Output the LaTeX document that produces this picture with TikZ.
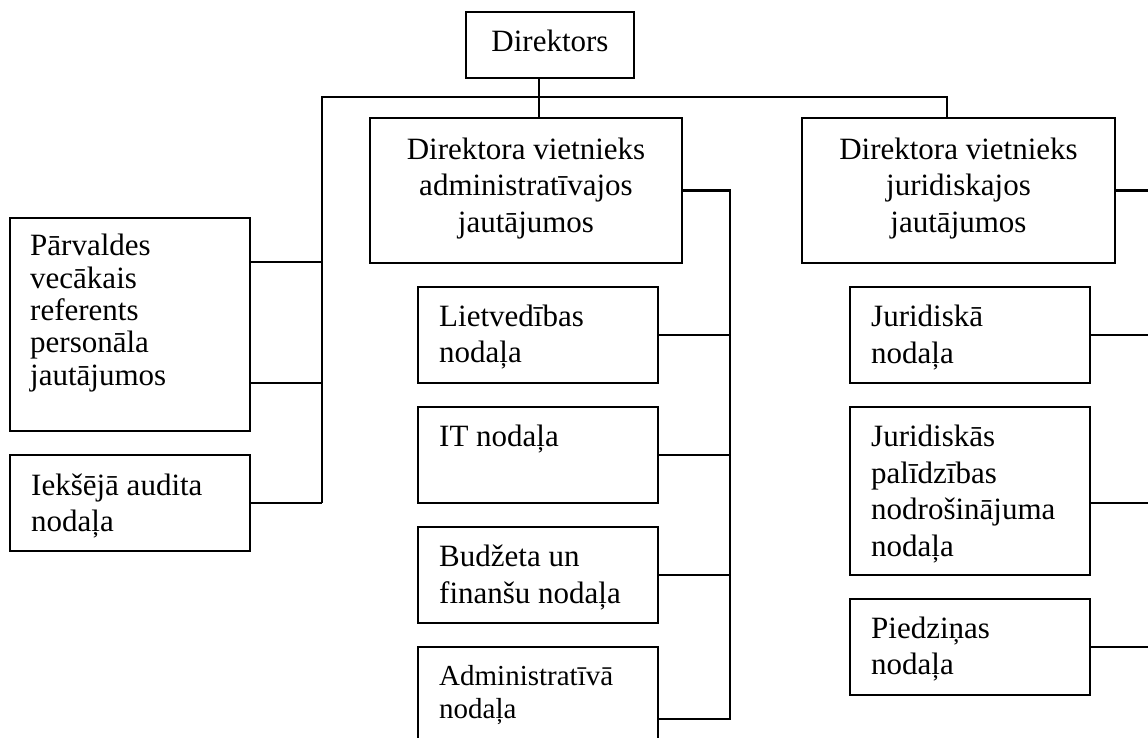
\documentclass[tikz,border=0pt]{standalone}
\usepackage{fontspec}
\setmainfont{Liberation Serif}
\newcommand\mylinesL[2]{\vtop{\baselineskip=#1\lineskiplimit=-100pt\relax\halign{##\hfil\cr#2\crcr}}}
\newcommand\mylinesC[2]{\vtop{\baselineskip=#1\lineskiplimit=-100pt\relax\halign{\hfil##\hfil\cr#2\crcr}}}
\tikzset{
  box/.style={draw, line width=2.1pt, inner sep=0pt, outer sep=0pt, anchor=north west},
  lbl/.style={inner sep=0pt, anchor=base west, font=\fontsize{31}{36.5}\selectfont},
  clbl/.style={inner sep=0pt, anchor=base, font=\fontsize{31}{36.5}\selectfont},
  conn/.style={line width=2.1pt, line join=miter}
}
\begin{document}
\begin{tikzpicture}[x=1pt,y=-1pt]
\useasboundingbox (0,0) rectangle (1148,737);
% boxes
\node[box, minimum width=168, minimum height=66] (dir) at (466,12) {};
\node[box, minimum width=312, minimum height=145] (dva) at (370,118) {};
\node[box, minimum width=313, minimum height=145] (dvj) at (802,118) {};
\node[box, minimum width=240, minimum height=213] (parv) at (10,218) {};
\node[box, minimum width=240, minimum height=96] (iek) at (10,455) {};
\node[box, minimum width=240, minimum height=96] (liet) at (418,287) {};
\node[box, minimum width=240, minimum height=96] (it) at (418,407) {};
\node[box, minimum width=240, minimum height=96] (budz) at (418,527) {};
\node[box, minimum width=240, minimum height=96] (adm) at (418,647) {};
\node[box, minimum width=240, minimum height=96] (jur) at (850,287) {};
\node[box, minimum width=240, minimum height=168] (jpal) at (850,407) {};
\node[box, minimum width=240, minimum height=96] (pied) at (850,599) {};
% texts
\node[clbl] (tdir) at (550,51.7) {Direktors};
\node[clbl] (tdva) at (526,159) {\mylinesC{36.5pt}{Direktora vietnieks\cr administratīvajos\cr jautājumos}};
\node[clbl] (tdvj) at (958.5,159) {\mylinesC{36.5pt}{Direktora vietnieks\cr juridiskajos\cr jautājumos}};
\node[lbl] (tparv) at (30,255.7) {\mylinesL{32.4pt}{Pārvaldes\cr vecākais\cr referents\cr personāla\cr jautājumos}};
\node[lbl] (tiek) at (31,495) {\mylinesL{36.5pt}{Iekšējā audita\cr nodaļa}};
\node[lbl] (tliet) at (439,326) {\mylinesL{36.5pt}{Lietvedības\cr nodaļa}};
\node[lbl] (tit) at (439,446.7) {IT nodaļa};
\node[lbl] (tbudz) at (439,566.7) {\mylinesL{36.5pt}{Budžeta un\cr finanšu nodaļa}};
\node[lbl, font=\fontsize{29}{33}\selectfont] (tadm) at (439,685) {\mylinesL{33pt}{Administratīvā\cr nodaļa}};
\node[lbl] (tjur) at (871,326.7) {\mylinesL{36.5pt}{Juridiskā\cr nodaļa}};
\node[lbl] (tjpal) at (871,446.7) {\mylinesL{36.5pt}{Juridiskās\cr palīdzības\cr nodrošinājuma\cr nodaļa}};
\node[lbl] (tpied) at (871,638.3) {\mylinesL{36.5pt}{Piedziņas\cr nodaļa}};
% connector coordinates
\coordinate (busL) at (322,97);
\coordinate (busM) at (539,97);
\coordinate (busR) at (947,97);
\coordinate (p1) at (322,262);
\coordinate (p2) at (322,383);
\coordinate (av) at (730,191);
\coordinate (av2) at (730,719);
\coordinate (jv) at (1149,191);
\coordinate (jp) at (1149,503);
% connectors
\draw[conn] (dir.south -| busM) -- (dva.north -| busM);
\draw[conn] (iek.east -| busL) -- (busL) -- (busR) -- (dvj.north -| busR);
\draw[conn] (p1 -| parv.east) -- (p1);
\draw[conn] (p2 -| parv.east) -- (p2);
\draw[conn] (iek.east) -- (iek.east -| busL);
\draw[conn] (dva.east) -- (dva.east -| av) -- (av2) -- (av2 -| adm.east);
\draw[conn] (liet.east) -- (liet.east -| av);
\draw[conn] (it.east) -- (it.east -| av);
\draw[conn] (budz.east) -- (budz.east -| av);
\draw[conn] (dvj.east) -- (dvj.east -| jv);
\draw[conn] (jur.east) -- (jur.east -| jv);
\draw[conn] (jp -| jpal.east) -- (jp);
\draw[conn] (pied.east) -- (pied.east -| jv);
\end{tikzpicture}
\end{document}
